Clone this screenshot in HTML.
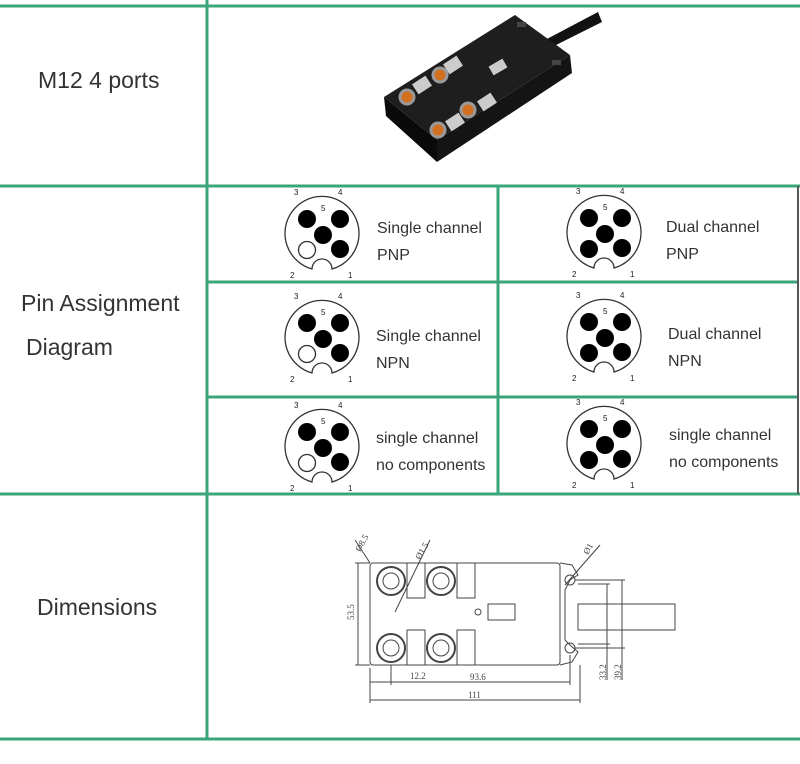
<!DOCTYPE html>
<html><head><meta charset="utf-8"><style>
body{margin:0;width:800px;height:764px;background:#fff;overflow:hidden;position:relative;font-family:"Liberation Sans",sans-serif}
.t{position:absolute;color:#333;font-size:23px}
.s{position:absolute;color:#333;font-size:16px;line-height:27px}
svg{position:absolute;left:0;top:0}
</style></head><body>
<svg width="800" height="764">
<defs>
<g id="pin">
<path d="M-10,36 A37,37 0 1 1 10,36 A10,10 0 0 0 -10,36 Z" fill="#fff" stroke="#333" stroke-width="1.3"/>
<text x="-28" y="-38" font-size="8" fill="#222" font-family="Liberation Sans">3</text>
<text x="16" y="-38" font-size="8" fill="#222" font-family="Liberation Sans">4</text>
<text x="-1" y="-22" font-size="8" fill="#222" font-family="Liberation Sans">5</text>
<text x="-32" y="45" font-size="8" fill="#222" font-family="Liberation Sans">2</text>
<text x="26" y="45" font-size="8" fill="#222" font-family="Liberation Sans">1</text>
<circle cx="-15" cy="-14" r="9" fill="#000"/><circle cx="18" cy="-14" r="9" fill="#000"/>
<circle cx="1" cy="2" r="9" fill="#000"/><circle cx="18" cy="16" r="9" fill="#000"/>
</g>
</defs>
<g stroke="#3aa57a" stroke-width="3" fill="none">
<line x1="0" y1="6" x2="800" y2="6"/><line x1="0" y1="186" x2="800" y2="186"/>
<line x1="0" y1="494" x2="800" y2="494"/><line x1="0" y1="739" x2="800" y2="739"/>
<line x1="207" y1="0" x2="207" y2="739"/>
<line x1="207" y1="282" x2="798" y2="282"/><line x1="207" y1="397" x2="798" y2="397"/>
<line x1="498" y1="186" x2="498" y2="494"/>
</g>
<line x1="798" y1="186" x2="798" y2="494" stroke="#555" stroke-width="2"/>
<!-- pins -->
<use href="#pin" x="322" y="233"/><circle cx="307" cy="250" r="8.5" fill="#fff" stroke="#333" stroke-width="1.3"/>
<use href="#pin" x="322" y="337"/><circle cx="307" cy="354" r="8.5" fill="#fff" stroke="#333" stroke-width="1.3"/>
<use href="#pin" x="322" y="446"/><circle cx="307" cy="463" r="8.5" fill="#fff" stroke="#333" stroke-width="1.3"/>
<use href="#pin" x="604" y="232"/><circle cx="589" cy="249" r="9" fill="#000"/>
<use href="#pin" x="604" y="336"/><circle cx="589" cy="353" r="9" fill="#000"/>
<use href="#pin" x="604" y="443"/><circle cx="589" cy="460" r="9" fill="#000"/>
<!-- product -->
<g>
<path d="M545,40 L598,12 L602,22 L550,48 Z" fill="#111"/>
<polygon points="384,97 437,140 437,162 386,116" fill="#0a0a0a"/>
<polygon points="437,140 570,55 572,73 437,162" fill="#141414"/>
<polygon points="384,97 515,15 570,55 437,140" fill="#1e1e1e"/>
<rect x="490" y="62" width="16" height="10" fill="#ccc" transform="rotate(-30 498 67)"/>
<rect x="445" y="59" width="16" height="12" fill="#ccc" transform="rotate(-33 453 65)"/>
<rect x="414" y="79" width="16" height="12" fill="#ccc" transform="rotate(-33 422 85)"/>
<rect x="479" y="96" width="16" height="12" fill="#ccc" transform="rotate(-33 487 102)"/>
<rect x="447" y="116" width="16" height="12" fill="#ccc" transform="rotate(-33 455 122)"/>
<g fill="#d37020" stroke="#999" stroke-width="3"><circle cx="440" cy="75" r="7"/><circle cx="407" cy="97" r="7"/><circle cx="468" cy="110" r="7"/><circle cx="438" cy="130" r="7"/></g>
<rect x="517" y="22" width="9" height="5" fill="#444"/><rect x="552" y="60" width="9" height="5" fill="#444"/>
</g>
<!-- dimensions -->
<g stroke="#444" stroke-width="1" fill="none">
<rect x="370" y="563" width="190" height="102" rx="3"/>
<path d="M560,563 L572,565 L578,575 L570,580 L565,590 L565,640 L570,645 L578,652 L572,662 L560,665"/>
<rect x="578" y="604" width="97" height="26"/>
<rect x="488" y="604" width="27" height="16"/>
<circle cx="478" cy="612" r="3"/>
<circle cx="570" cy="580" r="5"/><circle cx="570" cy="648" r="5"/>
<rect x="407" y="563" width="18" height="35"/><rect x="457" y="563" width="18" height="35"/>
<rect x="407" y="630" width="18" height="35"/><rect x="457" y="630" width="18" height="35"/>
<g stroke-width="2"><circle cx="391" cy="581" r="14"/><circle cx="441" cy="581" r="14"/><circle cx="391" cy="648" r="14"/><circle cx="441" cy="648" r="14"/></g>
<g stroke-width="1"><circle cx="391" cy="581" r="8"/><circle cx="441" cy="581" r="8"/><circle cx="391" cy="648" r="8"/><circle cx="441" cy="648" r="8"/></g>
<line x1="358" y1="563" x2="358" y2="665"/><line x1="355" y1="563" x2="370" y2="563"/><line x1="355" y1="665" x2="370" y2="665"/>
<line x1="370" y1="668" x2="370" y2="703"/><line x1="570" y1="655" x2="570" y2="685"/><line x1="580" y1="665" x2="580" y2="703"/><line x1="391" y1="665" x2="391" y2="685"/>
<line x1="370" y1="682" x2="391" y2="682"/><line x1="391" y1="682" x2="570" y2="682"/><line x1="370" y1="700" x2="580" y2="700"/>
<line x1="575" y1="580" x2="625" y2="580"/><line x1="575" y1="648" x2="625" y2="648"/>
<line x1="578" y1="584" x2="610" y2="584"/><line x1="578" y1="644" x2="610" y2="644"/>
<line x1="607" y1="584" x2="607" y2="680"/><line x1="622" y1="580" x2="622" y2="680"/>
<line x1="370" y1="563" x2="355" y2="540"/><line x1="395" y1="612" x2="430" y2="540"/><line x1="565" y1="585" x2="600" y2="545"/>
</g>
<g font-family="Liberation Serif" font-size="9" fill="#444">
<text x="410" y="679">12.2</text><text x="470" y="680">93.6</text><text x="468" y="698">111</text>
<text x="360" y="552" transform="rotate(-60 360 552)">Ø8.5</text>
<text x="420" y="560" transform="rotate(-60 420 560)">Ø1.5</text>
<text x="588" y="555" transform="rotate(-60 588 555)">Ø1</text>
<text x="354" y="620" transform="rotate(-90 354 620)">53.5</text>
<text x="606" y="680" transform="rotate(-90 606 680)">33.2</text>
<text x="621" y="680" transform="rotate(-90 621 680)">39.2</text>
</g>
</svg>
<div class="t" style="left:38px;top:67px">M12 4 ports</div>
<div class="t" style="left:21px;top:290px">Pin Assignment</div>
<div class="t" style="left:26px;top:334px">Diagram</div>
<div class="t" style="left:37px;top:594px">Dimensions</div>
<div class="s" style="left:377px;top:215px">Single channel<br>PNP</div>
<div class="s" style="left:666px;top:214px">Dual channel<br>PNP</div>
<div class="s" style="left:376px;top:323px">Single channel<br>NPN</div>
<div class="s" style="left:668px;top:321px">Dual channel<br>NPN</div>
<div class="s" style="left:376px;top:425px">single channel<br>no components</div>
<div class="s" style="left:669px;top:422px">single channel<br>no components</div>
</body></html>
